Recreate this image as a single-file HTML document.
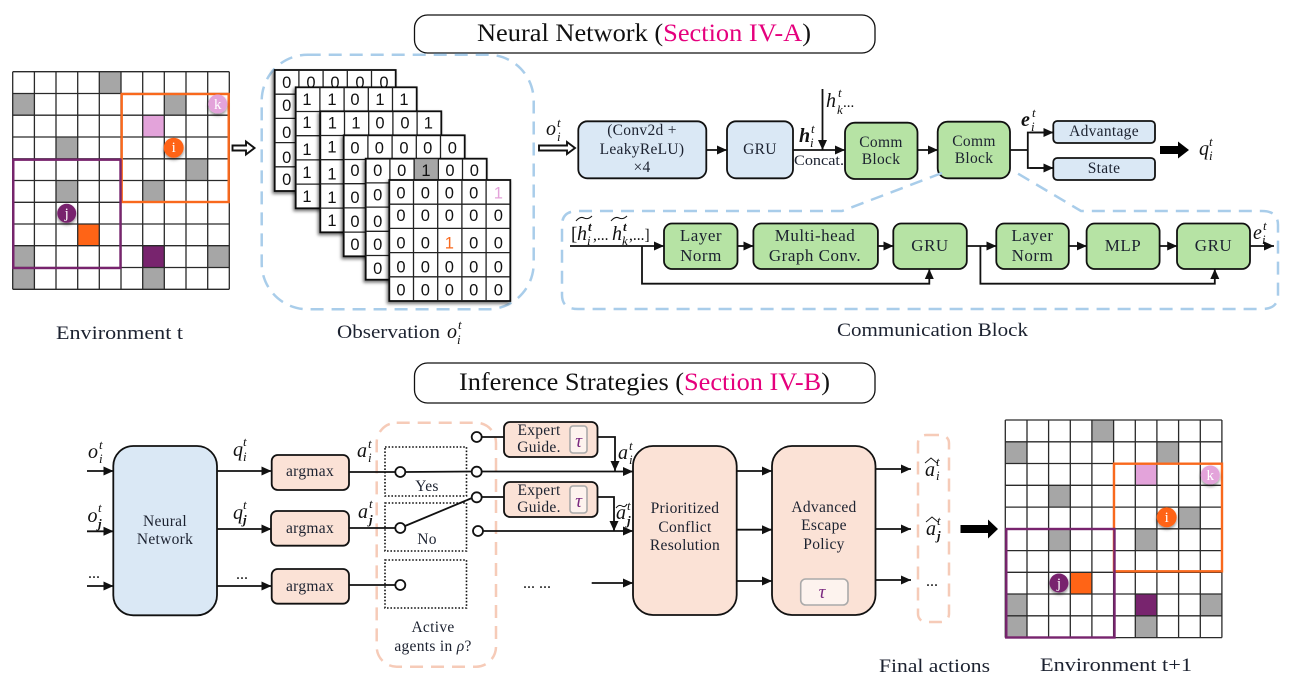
<!DOCTYPE html>
<html><head><meta charset="utf-8"><style>
html,body{margin:0;padding:0;background:#fff;width:1301px;height:687px;overflow:hidden}
svg{display:block}
text{font-family:"Liberation Serif",serif;fill:#1c2230}
.l{font-size:15.5px;letter-spacing:.3px;text-anchor:middle}
.c{font-size:18.5px}
.L{font-size:17px;letter-spacing:.5px;text-anchor:middle}
.m{font-size:20px;font-style:italic;fill:#111}
.s{font-size:13px;font-style:italic;fill:#111}
.b{font-weight:bold}
.d{font-family:"Liberation Sans",sans-serif;font-size:16.5px;fill:#111;text-anchor:middle}
.a{stroke:#111;stroke-width:1.8;fill:none}
.ar{stroke:#111;stroke-width:1.8;fill:none;marker-end:url(#h)}
.bx{stroke:#111;stroke-width:1.8}
.blue{fill:#dae8f5}.green{fill:#b6e3a4}.peach{fill:#fbe2d6}
.dash{fill:none;stroke:#a9cdea;stroke-width:2.5;stroke-dasharray:13 8}
.pd{fill:none;stroke:#f6cbb8;stroke-width:2.5;stroke-dasharray:13 8}
.dot{fill:none;stroke:#111;stroke-width:1.6;stroke-dasharray:1.6 1.8}
.cir{fill:#fff;stroke:#111;stroke-width:1.8}
.t{font-size:19px;font-style:italic;fill:#7b2a80;text-anchor:middle}
.tb{fill:#fdf3ee;stroke:#aaa;stroke-width:1.6}
.w{fill:#fff;font-size:15px;text-anchor:middle}
</style></head><body>
<svg width="1301" height="687" viewBox="0 0 1301 687" xmlns="http://www.w3.org/2000/svg">
<defs>
<marker id="h" markerUnits="userSpaceOnUse" markerWidth="11" markerHeight="11" refX="10" refY="5.5" orient="auto"><path d="M0 1L10 5.5L0 10Z" fill="#111"/></marker>
<filter id="sh" x="-20%" y="-20%" width="140%" height="140%"><feDropShadow dx="-1.5" dy="2" stdDeviation="1.6" flood-color="#000" flood-opacity=".55"/></filter>
<filter id="cs" x="-40%" y="-40%" width="180%" height="180%"><feDropShadow dx="0" dy="2" stdDeviation="1.5" flood-color="#000" flood-opacity=".45"/></filter>
<g id="env">
<rect width="216.6" height="217.6" fill="#fff"/>
<g fill="#a6a6a6">
<rect x="86.6" y="0" width="21.7" height="21.8"/><rect x="0" y="21.8" width="21.7" height="21.7"/><rect x="151.6" y="21.8" width="21.7" height="21.7"/>
<rect x="43.3" y="65.3" width="21.7" height="21.8"/><rect x="173.3" y="87.1" width="21.7" height="21.7"/><rect x="43.3" y="108.8" width="21.7" height="21.8"/>
<rect x="130" y="108.8" width="21.7" height="21.8"/><rect x="0" y="174" width="21.7" height="21.8"/><rect x="195" y="174" width="21.6" height="21.8"/>
<rect x="0" y="195.8" width="21.7" height="21.8"/><rect x="130" y="195.8" width="21.7" height="21.8"/>
</g>
<rect x="130" y="43.5" width="21.7" height="21.8" fill="#e3a3da"/>
<rect x="65" y="152.3" width="21.7" height="21.7" fill="#ff6416"/>
<rect x="130" y="174" width="21.7" height="21.8" fill="#78246e"/>
<path d="M0 0V217.6M21.7 0V217.6M43.3 0V217.6M65 0V217.6M86.6 0V217.6M108.3 0V217.6M130 0V217.6M151.6 0V217.6M173.3 0V217.6M195 0V217.6M216.6 0V217.6M0 0H216.6M0 21.8H216.6M0 43.5H216.6M0 65.3H216.6M0 87.1H216.6M0 108.8H216.6M0 130.6H216.6M0 152.3H216.6M0 174H216.6M0 195.8H216.6M0 217.6H216.6" fill="none" stroke="#2a2a2a" stroke-width="1.3"/>
</g>
<g id="g5">
<rect width="121" height="121" fill="#fff" stroke="#111" stroke-width="1.8" filter="url(#sh)"/>
<path d="M24.2 0V121M48.4 0V121M72.6 0V121M96.8 0V121M0 24.2H121M0 48.4H121M0 72.6H121M0 96.8H121" stroke="#222" stroke-width="1.3" fill="none"/>
</g>
</defs>

<!-- Titles -->
<rect x="414.5" y="15" width="460.5" height="38" rx="13" fill="#fff" stroke="#111" stroke-width="1.3"/>
<text x="477" y="41" font-size="25" textLength="334" lengthAdjust="spacingAndGlyphs" style="fill:#111">Neural Network (<tspan style="fill:#e5007d">Section IV-A</tspan>)</text>
<rect x="414.5" y="363" width="460.5" height="40" rx="13" fill="#fff" stroke="#111" stroke-width="1.3"/>
<text x="459" y="390" font-size="25" textLength="371" lengthAdjust="spacingAndGlyphs" style="fill:#111">Inference Strategies (<tspan style="fill:#e5007d">Section IV-B</tspan>)</text>

<!-- Environment t -->
<use href="#env" transform="translate(12.7 71.7)"/>
<rect x="121.7" y="94" width="107" height="108" fill="none" stroke="#f9691d" stroke-width="2.4"/>
<rect x="13.3" y="159.7" width="107.2" height="108.3" fill="none" stroke="#78246e" stroke-width="2.4"/>
<circle cx="217.7" cy="104" r="9.5" fill="#e3a3da" filter="url(#cs)"/><text class="w" x="217.7" y="109">k</text>
<circle cx="173.7" cy="147.7" r="10" fill="#ff6416" filter="url(#cs)"/><text class="w" x="173.7" y="152">i</text>
<circle cx="66.7" cy="213.3" r="9.5" fill="#78246e" filter="url(#cs)"/><text class="w" x="66.7" y="218">j</text>
<text class="c" x="56" y="339" textLength="127" lengthAdjust="spacingAndGlyphs">Environment t</text>
<path d="M232.5 145.5H246V141.5L254.5 148L246 154.5V150.5H232.5Z" fill="#fff" stroke="#111" stroke-width="1.9"/>

<!-- Observation -->
<rect x="261.7" y="54.7" width="272" height="254.6" rx="46" class="dash"/>
<use href="#g5" x="274.7" y="70"/>
<text class="d" x="286.7 311 335 360 384" y="88">00000</text>
<text class="d" x="286.7 286.7 286.7 286.7" y="111 138 163 185">0000</text>
<use href="#g5" x="295.7" y="87.3"/>
<text class="d" x="307 332 355 380 404" y="105">11011</text>
<text class="d" x="307 307 307 307" y="128 155 178 202">1111</text>
<use href="#g5" x="320.3" y="111.3"/>
<text class="d" x="332.3 356 380 405 428.3" y="128.500">11001</text>
<text class="d" x="332 332 332 332" y="152.500 179.500 203 226">1111</text>
<use href="#g5" x="343.7" y="135.3"/>
<text class="d" x="355 379.3 404 427.7 452.3" y="153.500">00000</text>
<text class="d" x="355 355 355 355" y="176 203 227 250">0000</text>
<use href="#g5" x="365.7" y="158.7"/>
<rect x="414.3" y="158.7" width="24" height="24" fill="#a6a6a6" stroke="#222" stroke-width="1"/>
<text class="d" x="377.7 401.7 426 450 474.3" y="176">00100</text>
<text class="d" x="377.7 377.7 377.7 377.7" y="200.500 227 250 274">0000</text>
<use href="#g5" x="389.3" y="180"/>
<text class="d" x="401 425.3 449.3 473.7" y="198.500">0000</text>
<text class="d" x="498.3" y="198.500" style="fill:#e3a3da">1</text>
<text class="d" x="401 425.3 449.3 473.7 498.3" y="221">00000</text>
<text class="d" x="401 425.3" y="248.500">00</text>
<text class="d" x="449.3" y="248.500" style="fill:#f9691d">1</text>
<text class="d" x="473.7 498.3" y="248.500">00</text>
<text class="d" x="401 425.3 449.3 473.7 498.3" y="272.500">00000</text>
<text class="d" x="401 425.3 449.3 473.7 498.3" y="295.500">00000</text>
<text class="c" x="337" y="338" textLength="103" lengthAdjust="spacingAndGlyphs">Observation</text>
<text class="m" x="447" y="338">o</text><text class="s" x="458" y="329">t</text><text class="s" x="457" y="344">i</text>

<!-- Top flow -->
<text class="m" x="546" y="135">o</text><text class="s" x="557" y="127">t</text><text class="s" x="557" y="141">i</text>
<path d="M539 145.5H567V142L575 148L567 154V150.5H539Z" fill="#fff" stroke="#111" stroke-width="1.9"/>
<rect x="578.3" y="121.3" width="128" height="57" rx="9" class="bx blue"/>
<text class="l" x="642" y="135">(Conv2d +</text><text class="l" x="642" y="154">LeakyReLU)</text><text class="l" x="642" y="172">×4</text>
<rect x="727" y="121.3" width="66" height="57" rx="9" class="bx blue"/>
<text class="l" x="760" y="154">GRU</text>
<rect x="845" y="122.7" width="72.5" height="56.3" rx="10" class="bx green"/>
<text class="l" x="881" y="147">Comm</text><text class="l" x="881" y="164">Block</text>
<rect x="937.7" y="121.7" width="72.3" height="56.6" rx="10" class="bx green"/>
<text class="l" x="974" y="146">Comm</text><text class="l" x="974" y="163">Block</text>
<path class="ar" d="M706 150H727"/><path class="ar" d="M793 150H845"/><path class="ar" d="M822.5 89V150"/><path class="ar" d="M917.5 150H938"/>
<path class="a" d="M1010 150H1028"/><path class="ar" d="M1053 132.5H1027.8V168H1053" style="marker-end:none"/>
<path class="ar" d="M1030 132.5H1053.5"/><path class="ar" d="M1030 168H1053.5"/>
<text class="m" x="826" y="107">h</text><text class="s" x="838" y="97">t</text><text class="s" x="837" y="114">k</text><text x="843" y="107" font-size="15" style="fill:#111">...</text>
<text class="m" x="799" y="142" style="font-weight:bold">h</text><text class="s" x="811" y="133">t</text><text class="s" x="810" y="147">i</text>
<text x="794" y="165" font-size="14.5" textLength="50" lengthAdjust="spacingAndGlyphs">Concat.</text>
<text class="m b" x="1021" y="126">e</text><text class="s" x="1032" y="117">t</text><text class="s" x="1031" y="131">i</text>
<rect x="1053.3" y="121" width="101.7" height="22" rx="4" class="bx blue"/>
<text class="l" x="1104" y="136">Advantage</text>
<rect x="1053.3" y="158" width="101.7" height="22" rx="4" class="bx blue"/>
<text class="l" x="1104" y="173">State</text>
<path d="M1160 146H1178V141.5L1189 150L1178 158.500V154H1160Z" fill="#000"/>
<text class="m" x="1199" y="155">q</text><text class="s" x="1209" y="146">t</text><text class="s" x="1209" y="160">i</text>

<!-- Communication block -->
<path class="dash" d="M942 173L842 211H578Q562 211 562 225V295Q562 309 578 309H1262Q1278 309 1278 295V225Q1278 211 1262 211H1081L1017 173"/>
<text x="571" y="240" font-size="19" style="fill:#111">[</text>
<path d="M576 221Q580 216 584 218T592 216M611 221Q615 216 619 218T627 216" fill="none" stroke="#111" stroke-width="1"/>
<text class="m" x="577" y="240">h</text><text class="s b" x="588" y="231">t</text><text class="s" x="587" y="245">i</text>
<text x="593" y="240" font-size="15.500" style="fill:#111">,...</text>
<text class="m" x="612" y="240">h</text><text class="s b" x="623" y="231">t</text><text class="s" x="622" y="245">k</text>
<text x="629" y="240" font-size="15.500" style="fill:#111">,...]</text>
<path class="ar" d="M570 246H664"/>
<path class="ar" d="M642 246V283.700H929.3V269"/>
<rect x="664" y="223.500" width="73.500" height="45.500" rx="8" class="bx green"/>
<text class="L" x="701" y="241">Layer</text><text class="L" x="701" y="261">Norm</text>
<rect x="753.400" y="223.500" width="124.500" height="45.500" rx="8" class="bx green"/>
<text class="L" x="815" y="241">Multi-head</text><text class="L" x="815" y="261">Graph Conv.</text>
<rect x="893.300" y="223.500" width="73.500" height="45.500" rx="8" class="bx green"/>
<text class="L" x="930" y="251">GRU</text>
<rect x="996.300" y="223.500" width="72.500" height="45.500" rx="8" class="bx green"/>
<text class="L" x="1032.500" y="241">Layer</text><text class="L" x="1032.500" y="261">Norm</text>
<rect x="1086.600" y="223.500" width="73" height="45.500" rx="8" class="bx green"/>
<text class="L" x="1123" y="251">MLP</text>
<rect x="1177" y="223.500" width="73" height="45.500" rx="8" class="bx green"/>
<text class="L" x="1213.500" y="251">GRU</text>
<path class="ar" d="M737.500 246H753.500"/><path class="ar" d="M878 246H893.500"/><path class="ar" d="M966.800 246H996.500"/><path class="ar" d="M1068.800 246H1086.800"/><path class="ar" d="M1159.600 246H1177.200"/><path class="ar" d="M1250 246H1274"/>
<path class="ar" d="M980.400 246V283.700H1214.800V269"/>
<text class="m" x="1253" y="239">e</text><text class="s" x="1263" y="230">t</text><text class="s" x="1262" y="244">i</text>
<text class="c" x="837" y="336" textLength="191" lengthAdjust="spacingAndGlyphs">Communication Block</text>

<!-- Bottom left -->
<text class="m" x="88" y="458">o</text><text class="s" x="99" y="449">t</text><text class="s" x="99" y="463">i</text>
<text class="m" x="87.500" y="522">o</text><text class="s" x="98" y="512">t</text><text class="s b" x="98" y="528">j</text>
<text x="88" y="578" font-size="16" style="fill:#111">...</text>
<path class="ar" d="M87 471H113.500"/><path class="ar" d="M87 531.300H113.500"/><path class="ar" d="M87 586H113.500"/>
<rect x="113.300" y="446" width="103.700" height="169.300" rx="20" class="bx blue"/>
<text class="l" x="165" y="526">Neural</text><text class="l" x="165" y="544">Network</text>
<path class="ar" d="M217 471H271.500"/><path class="ar" d="M217 529H271.500"/><path class="ar" d="M217 586H271.500"/>
<text class="m" x="233" y="456">q</text><text class="s" x="243" y="446">t</text><text class="s" x="243" y="461">i</text>
<text class="m" x="233" y="519">q</text><text class="s" x="243" y="509">t</text><text class="s b" x="243" y="524">j</text>
<text x="236" y="579" font-size="16" style="fill:#111">...</text>
<rect x="271.700" y="455" width="77.300" height="35" rx="6" class="bx peach"/><text class="l" x="310" y="476">argmax</text>
<rect x="271" y="511" width="78" height="34.700" rx="6" class="bx peach"/><text class="l" x="310" y="533">argmax</text>
<rect x="271.700" y="569" width="77.300" height="34.700" rx="6" class="bx peach"/><text class="l" x="310" y="591">argmax</text>
<text class="m" x="357" y="457">a</text><text class="s" x="368" y="448">t</text><text class="s" x="368" y="462">i</text>
<text class="m" x="358" y="518">a</text><text class="s" x="369" y="508">t</text><text class="s b" x="369" y="524">j</text>

<!-- Switches -->
<rect x="376.700" y="422.700" width="119.300" height="244" rx="20" class="pd"/>
<rect x="385" y="447" width="81.500" height="49" class="dot"/>
<rect x="385" y="503" width="81.500" height="48" class="dot"/>
<rect x="385" y="560" width="81.500" height="48" class="dot"/>
<path class="a" d="M349 472H395M405 472L472 471.500M349 528H395M349 585H395M405 526L472 498"/>
<path class="a" d="M481.500 437H504M481.500 497H504"/>
<path class="ar" d="M481.500 471.500H633"/><path class="ar" d="M483 531H633"/><path class="ar" d="M591.700 583H633"/>
<circle class="cir" cx="400.300" cy="472" r="5"/><circle class="cir" cx="400.300" cy="528" r="5"/><circle class="cir" cx="400.300" cy="585" r="5"/>
<circle class="cir" cx="476.700" cy="437" r="5"/><circle class="cir" cx="476.700" cy="471.700" r="5"/><circle class="cir" cx="476.700" cy="497.300" r="5"/><circle class="cir" cx="478" cy="531" r="5"/>
<text class="l" x="427" y="491">Yes</text><text class="l" x="427" y="544">No</text>
<text class="l" x="433" y="632">Active</text><text class="l" x="433" y="651">agents in <tspan font-style="italic">ρ</tspan>?</text>
<rect x="504" y="422" width="93.500" height="35" rx="6" class="bx peach"/>
<text class="l" x="539" y="435">Expert</text><text class="l" x="539" y="452">Guide.</text>
<rect x="570" y="426" width="17" height="27" rx="3" class="tb"/><text class="t" x="578.600" y="447">τ</text>
<rect x="504" y="482" width="93.500" height="35" rx="6" class="bx peach"/>
<text class="l" x="539" y="495">Expert</text><text class="l" x="539" y="512">Guide.</text>
<rect x="570" y="486" width="17" height="27" rx="3" class="tb"/><text class="t" x="578.600" y="507">τ</text>
<path class="ar" d="M597.500 437H615V471"/><path class="ar" d="M597.500 497H614V531"/>
<text class="m" x="618" y="459">a</text><text class="s" x="629" y="450">t</text><text class="s" x="629" y="464">i</text>
<text class="m" x="616" y="519">a</text><path d="M616 508Q619 504 622 506T627 504" fill="none" stroke="#111" stroke-width="1"/><text class="s" x="627" y="510">t</text><text class="s b" x="627" y="525">j</text>
<text x="523" y="588" font-size="16" style="fill:#111">... ...</text>

<!-- PCR / AEP -->
<rect x="633" y="446" width="103.700" height="169" rx="20" class="bx peach"/>
<text class="l" x="685" y="513">Prioritized</text><text class="l" x="685" y="532">Conflict</text><text class="l" x="685" y="550">Resolution</text>
<rect x="772" y="446" width="103.500" height="169" rx="20" class="bx peach"/>
<text class="l" x="824" y="512">Advanced</text><text class="l" x="824" y="530">Escape</text><text class="l" x="824" y="549">Policy</text>
<rect x="800.700" y="579" width="47.300" height="26" rx="5" class="tb"/><text class="t" x="822" y="598">τ</text>
<path class="ar" d="M736.700 471H772"/><path class="ar" d="M736.700 529.700H772"/><path class="ar" d="M736.700 581H772"/>
<path class="ar" d="M875.500 469H911"/><path class="ar" d="M875.500 529H911"/><path class="ar" d="M875.500 580H911"/>
<rect x="918" y="435" width="31" height="187" rx="8" class="pd"/>
<text class="m" x="925" y="476">a</text><path d="M925 463L931 458L937 463" fill="none" stroke="#111" stroke-width=".9"/><text class="s" x="936" y="466">t</text><text class="s" x="936" y="480">i</text>
<text class="m" x="926" y="535">a</text><path d="M926 522L932 517L938 522" fill="none" stroke="#111" stroke-width=".9"/><text class="s" x="937" y="525">t</text><text class="s b" x="937" y="540">j</text>
<text x="926" y="586" font-size="16" style="fill:#111">...</text>
<path d="M960.500 525H988V519.500L998 529L988 538.500V533H960.500Z" fill="#000"/>
<text class="c" x="879" y="672" textLength="111" lengthAdjust="spacingAndGlyphs">Final actions</text>

<!-- Environment t+1 -->
<use href="#env" transform="translate(1005.300 420)"/>
<rect x="1114" y="463.700" width="108" height="107.600" fill="none" stroke="#f9691d" stroke-width="2.400"/>
<rect x="1006.300" y="529" width="108.200" height="108.500" fill="none" stroke="#78246e" stroke-width="2.400"/>
<circle cx="1210.300" cy="475" r="9.500" fill="#e3a3da" filter="url(#cs)"/><text class="w" x="1210.300" y="480">k</text>
<circle cx="1166.700" cy="517.300" r="10" fill="#ff6416" filter="url(#cs)"/><text class="w" x="1166.700" y="522">i</text>
<circle cx="1059" cy="583" r="9.500" fill="#78246e" filter="url(#cs)"/><text class="w" x="1059" y="588">j</text>
<text class="c" x="1040" y="671" textLength="152" lengthAdjust="spacingAndGlyphs">Environment t+1</text>
</svg>
</body></html>
